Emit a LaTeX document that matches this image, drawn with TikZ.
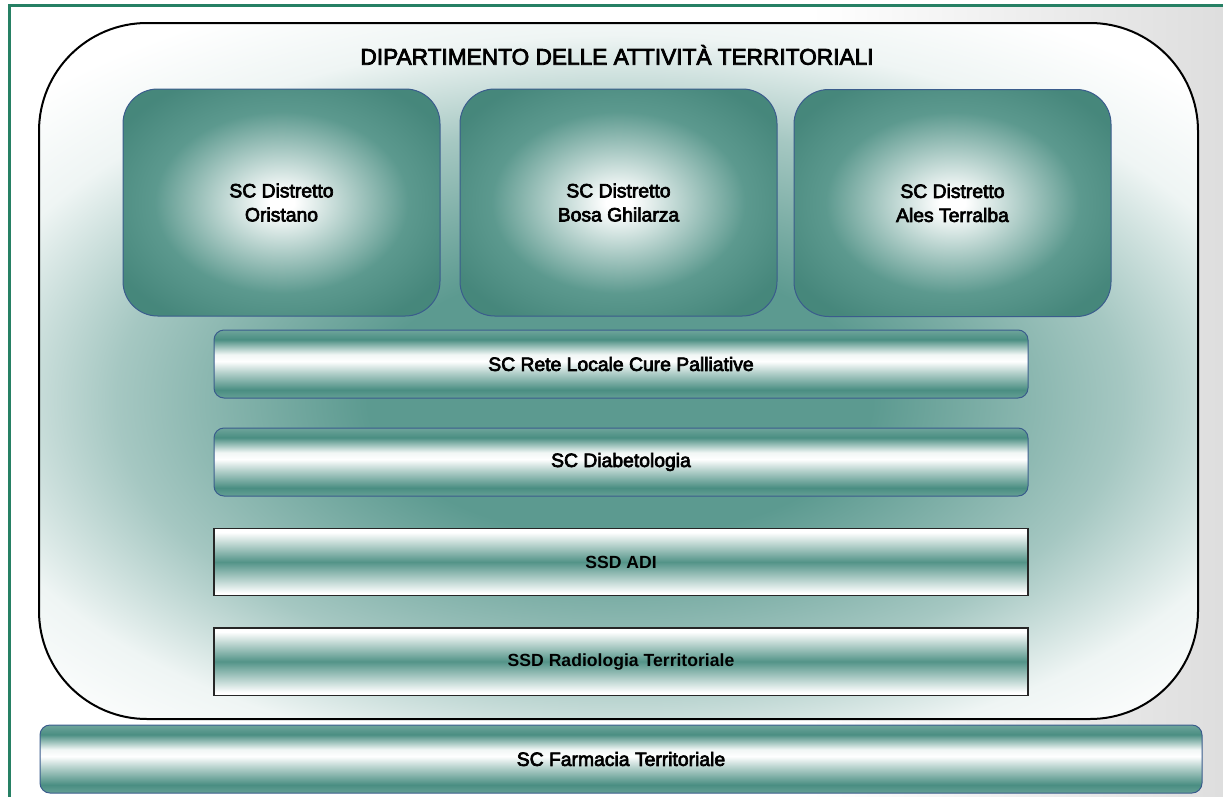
\documentclass[tikz,border=0pt]{standalone}
\usepackage{fontspec}
\setmainfont{Liberation Sans}
\newfontfamily\heavyfont{Liberation Sans}[FakeBold=3.5]
\definecolor{teal1}{RGB}{74,142,130}
\definecolor{bigteal}{RGB}{92,154,144}
\definecolor{boxedge}{RGB}{58,92,140}
\definecolor{framegreen}{RGB}{38,128,100}
\pgfdeclarehorizontalshading{bgsh}{100bp}{color(0bp)=(white); color(58bp)=(white); color(75bp)=(black!13); color(100bp)=(black!13)}
\pgfdeclareradialshading{bigsh}{\pgfpointorigin}{color(0bp)=(bigteal); color(9bp)=(bigteal); color(18bp)=(bigteal!55!white); color(24bp)=(white!90!bigteal); color(29bp)=(white); color(50bp)=(white)}
\pgfdeclareradialshading{boxsh}{\pgfpointorigin}{color(0bp)=(white); color(2bp)=(white); color(20bp)=(teal1!90!white); color(30bp)=(teal1!95!black); color(50bp)=(teal1!95!black)}
\pgfdeclareverticalshading{tubesh}{100bp}{color(0bp)=(teal1!85!white); color(25bp)=(teal1!85!white); color(31bp)=(teal1); color(44bp)=(teal1!40!white); color(52bp)=(white); color(57bp)=(white!92!teal1); color(68bp)=(teal1); color(75bp)=(teal1!80!white); color(100bp)=(teal1!80!white)}
\pgfdeclareverticalshading{ssdsh}{100bp}{color(0bp)=(white); color(27bp)=(white); color(50bp)=(teal1!95!white); color(72bp)=(white); color(100bp)=(white)}
\tikzset{
  deptbox/.style={draw=black, line width=1.5pt, rounded corners=81pt,
    minimum width=869.25pt, minimum height=522pt, inner sep=0pt},
  distbox/.style={draw=boxedge, line width=0.75pt, rounded corners=26pt, shade, shading=boxsh,
    minimum width=237.75pt, minimum height=170.25pt, inner sep=0pt, align=center,
    font=\heavyfont\fontsize{14.5}{18}\selectfont},
  tubebar/.style={draw=boxedge, line width=0.75pt, rounded corners=7.5pt, shade, shading=tubesh,
    minimum height=51pt, inner sep=0pt, font=\heavyfont\fontsize{14.5}{17}\selectfont},
  ssdbar/.style={draw=black!85, line width=1pt, shade, shading=ssdsh,
    minimum width=610.5pt, minimum height=50.5pt, inner sep=0pt,
    font=\bfseries\fontsize{13.2}{16}\selectfont},
  titletext/.style={font=\heavyfont\fontsize{17}{20}\selectfont, inner sep=0pt}
}
\begin{document}
\begin{tikzpicture}[x=0.75pt, y=-0.75pt]
\useasboundingbox (0,0) rectangle (1223,796);
\clip (0,0) rectangle (1223,796);
\fill[white] (0,0) rectangle (1223,796);
\shade[shading=bgsh] (9.5,5.5) rectangle (1223,796);
\draw[framegreen, line width=2.25pt] (1240,5.5) -- (9.5,5.5) -- (9.5,820);

\begin{scope}
  \clip[rounded corners=81pt] (39,23) rectangle (1198,719);
  \fill[white] (39,23) rectangle (1198,719);
  \shade[shading=bigsh] (-80,20) rectangle (1320,780);
\end{scope}
\node[deptbox] (dept) at (618.5,371) {};
\node[titletext] (title) at (617,55) {DIPARTIMENTO DELLE ATTIVITÀ TERRITORIALI};

\node[distbox] (oristano) at (281.5,202.5) {SC Distretto\\Oristano};
\node[distbox] (bosa) at (618.5,202.5) {SC Distretto\\Bosa Ghilarza};
\node[distbox] (ales) at (952.5,203) {SC Distretto\\Ales Terralba};

\node[tubebar, minimum width=610.5pt] (rete) at (621,364) {SC Rete Locale Cure Palliative};
\node[tubebar, minimum width=610.5pt] (diab) at (621,462) {SC Diabetologia};
\node[ssdbar] (adi) at (621,562) {SSD ADI};
\node[ssdbar] (radio) at (621,661.5) {SSD Radiologia Territoriale};
\node[tubebar, minimum width=871.5pt] (farm) at (621,759) {SC Farmacia Territoriale};
\end{tikzpicture}
\end{document}
